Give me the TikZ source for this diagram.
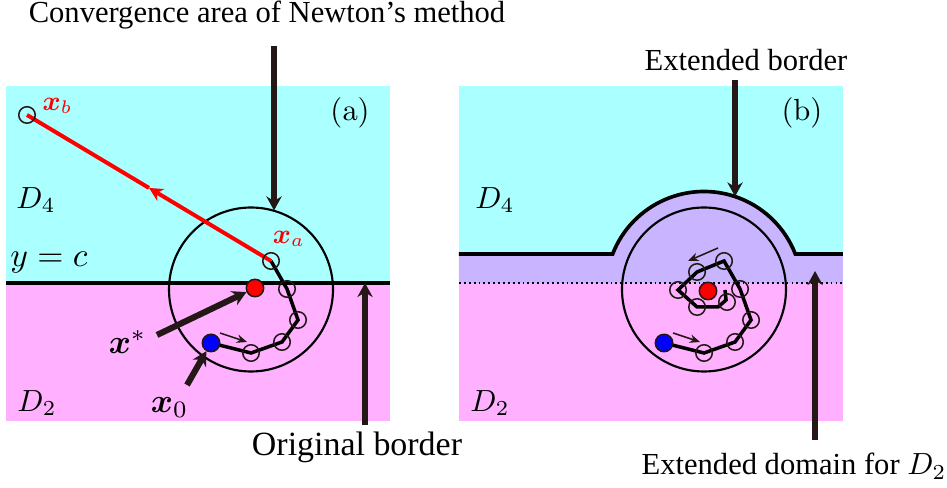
\RequirePackage{fix-cm}
\documentclass[tikz,border=0pt]{standalone}
\usepackage{amsmath}
\usepackage{amssymb}
\usepackage[no-math]{fontspec}
\setmainfont{Liberation Serif}
\usetikzlibrary{arrows.meta, calc}
\definecolor{dcyan}{HTML}{AAFFFF}
\definecolor{dpink}{HTML}{FFB0FF}
\definecolor{dpurple}{HTML}{C8B4FF}
\definecolor{darrow}{HTML}{231815}
\definecolor{xred}{HTML}{FF0000}
\definecolor{xblue}{HTML}{0000FF}
\tikzset{
  bigarrow/.style={-{Stealth[length=4.6pt, width=5pt]}, line width=2pt, draw=darrow},
  smallarrow/.style={-{Stealth[length=3.4pt, width=2.8pt]}, line width=0.5pt, draw=darrow},
  border/.style={line width=1.2pt, draw=black},
  conv/.style={line width=0.7pt, draw=black},
  newton/.style={line width=1.15pt, draw=black},
  secant/.style={line width=1.3pt, draw=xred},
  iter/.style={circle, draw=darrow, line width=0.5pt, minimum size=5.4pt, inner sep=0pt},
  dot/.style={circle, draw=darrow, line width=0.5pt, minimum size=5.7pt, inner sep=0pt},
  lbl/.style={font=\fontsize{10}{12}\selectfont},
  mlbl/.style={font=\fontsize{11}{13}\selectfont},
  rlbl/.style={text=xred, font=\fontsize{9}{11}\selectfont},
}
\begin{document}
\begin{tikzpicture}[scale=0.575]
  \useasboundingbox (0,0) rectangle (18.94,9.76);
  % panel (a)
  \fill[dcyan] (0.12,4.10) rectangle (7.80,8.04);
  \fill[dpink] (0.12,1.34) rectangle (7.80,4.10);
  \draw[border] (0.12,4.10) -- (7.80,4.10);
  % panel (b)
  \fill[dcyan] (9.18,4.10) rectangle (16.86,8.04);
  \fill[dpurple] (9.18,4.10) -- (9.18,4.68) -- (12.253,4.68)
    arc[start angle=158.76, end angle=21.24, radius=1.96] -- (16.86,4.68) -- (16.86,4.10) -- cycle;
  \fill[dpink] (9.18,1.34) rectangle (16.86,4.10);
  \draw[densely dotted, line width=0.6pt] (9.18,4.10) -- (16.86,4.10);
  \draw[border] (9.18,4.68) -- (12.253,4.68)
    arc[start angle=158.76, end angle=21.24, radius=1.96] -- (16.86,4.68);

  % convergence circles
  \draw[conv] (5.02,3.97) circle[radius=1.64];
  \draw[conv] (14.08,3.97) circle[radius=1.64];

  % iterates (a)
  \coordinate (a0) at (4.22,2.90);
  \coordinate (a1) at (5.02,2.70);
  \coordinate (a2) at (5.64,2.92);
  \coordinate (a3) at (5.96,3.36);
  \coordinate (a4) at (5.74,3.98);
  \coordinate (xa) at (5.42,4.54);
  \coordinate (xb) at (0.54,7.46);
  \draw[newton] (a0) -- (a1) -- (a2) -- (a3) -- (a4) -- (xa);
  \coordinate (mid) at ($(xa)!0.5!(xb)$);
  \draw[secant, -{Stealth[length=4.5pt, width=4.5pt]}] (xa) -- (mid);
  \draw[secant] (mid) -- (xb);
  \foreach \p in {a1,a2,a3,a4,xa,xb}
    \node[iter] at (\p) {};
  \node[dot, fill=xred] (sa) at (5.10,4.00) {};
  \node[dot, fill=xblue] (oa) at (a0) {};

  % iterates (b)
  \coordinate (b0) at (13.28,2.90);
  \coordinate (b1) at (14.08,2.70);
  \coordinate (b2) at (14.70,2.92);
  \coordinate (b3) at (15.02,3.36);
  \coordinate (b4) at (14.80,3.98);
  \coordinate (b5) at (14.48,4.54);
  \coordinate (b6) at (13.94,4.32);
  \coordinate (b7) at (13.56,3.96);
  \coordinate (b8) at (13.94,3.62);
  \coordinate (b9) at (14.36,3.62);
  \coordinate (b10) at (14.52,3.76);
  \coordinate (b11) at (14.50,3.96);
  \draw[newton] (b0) -- (b1) -- (b2) -- (b3) -- (b4) -- (b5) -- (b6) -- (b7)
    -- (b8) -- (b9) -- (b10) -- (b11);
  \foreach \p in {b1,b2,b3,b4,b5,b6,b7,b8}
    \node[iter] at (\p) {};
  \node[iter] at (14.54,3.72) {};
  \node[dot, fill=xred] (sb) at (14.16,3.94) {};
  \node[dot, fill=xblue] (ob) at (b0) {};

  % direction hints
  \coordinate (ha1) at (4.40,3.10);
  \coordinate (ha2) at (4.94,2.92);
  \draw[smallarrow] (ha1) -- (ha2);
  \coordinate (hb1) at (13.46,3.10);
  \coordinate (hb2) at (14.00,2.92);
  \draw[smallarrow] (hb1) -- (hb2);
  \coordinate (hb3) at (14.36,4.80);
  \coordinate (hb4) at (13.76,4.54);
  \draw[smallarrow] (hb3) -- (hb4);

  % labels inside panels
  \node[lbl] (d4a) at (0.72,5.76) {$D_4$};
  \node[lbl] (d2a) at (0.74,1.70) {$D_2$};
  \node[mlbl] (yc) at (0.98,4.50) {$y=c$};
  \node[lbl] (pa) at (7.00,7.50) {$(\mathrm{a})$};
  \node[lbl] (d4b) at (9.90,5.76) {$D_4$};
  \node[lbl] (d2b) at (9.80,1.70) {$D_2$};
  \node[lbl] (pb) at (16.04,7.50) {$(\mathrm{b})$};
  \node[rlbl] (lxa) at (5.78,4.98) {$\boldsymbol{x}_a$};
  \node[rlbl] (lxb) at (1.15,7.64) {$\boldsymbol{x}_b$};
  \node[mlbl] (lxs) at (2.55,2.92) {$\boldsymbol{x}^*$};
  \node[mlbl] (lx0) at (3.39,1.60) {$\boldsymbol{x}_0$};

  % pointers
  \coordinate (xs0) at (3.14,3.06);
  \draw[bigarrow] (xs0) -- (sa);
  \coordinate (x00) at (3.74,2.06);
  \draw[bigarrow] (x00) -- (oa);

  \node[lbl] (conv) at (5.34,9.46) {Convergence area of Newton’s method};
  \coordinate (c0) at (5.48,8.84);
  \coordinate (c1) at (5.48,5.55);
  \draw[bigarrow] (c0) -- (c1);

  \node[font=\fontsize{11.1}{13}\selectfont] (orig) at (7.14,0.82) {Original border};
  \coordinate (o0) at (7.30,1.26);
  \coordinate (o1) at (7.30,4.10);
  \draw[bigarrow] (o0) -- (o1);

  \node[lbl] (ext) at (14.92,8.56) {Extended border};
  \coordinate (e0) at (14.70,8.16);
  \coordinate (e1) at (14.70,5.83);
  \draw[bigarrow] (e0) -- (e1);

  \node[lbl] (dom) at (15.88,0.44) {Extended domain for $D_2$};
  \coordinate (m0) at (16.30,0.96);
  \coordinate (m1) at (16.30,4.34);
  \draw[bigarrow] (m0) -- (m1);
\end{tikzpicture}
\end{document}
